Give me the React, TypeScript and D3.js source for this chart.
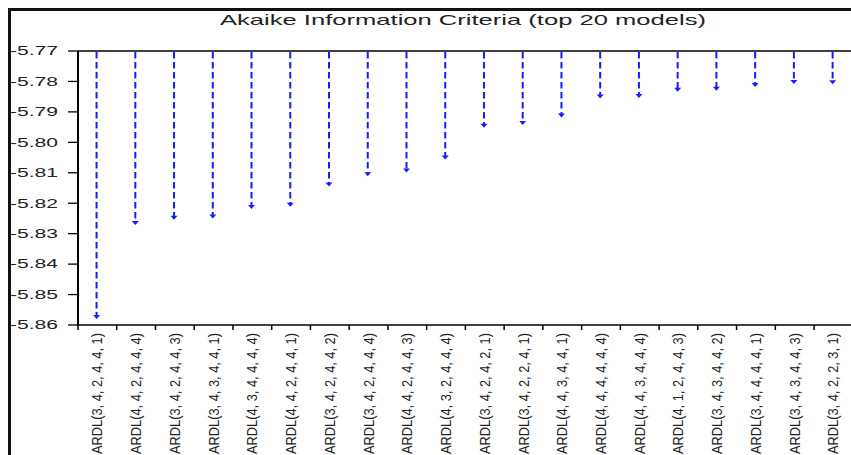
import { useMemo } from 'react';
import * as d3 from 'd3';

const models = [
  'ARDL(3, 4, 2, 4, 4, 1)',
  'ARDL(4, 4, 2, 4, 4, 4)',
  'ARDL(3, 4, 2, 4, 4, 3)',
  'ARDL(3, 4, 3, 4, 4, 1)',
  'ARDL(4, 3, 4, 4, 4, 4)',
  'ARDL(4, 4, 2, 4, 4, 1)',
  'ARDL(3, 4, 2, 4, 4, 2)',
  'ARDL(3, 4, 2, 4, 4, 4)',
  'ARDL(4, 4, 2, 4, 4, 3)',
  'ARDL(4, 3, 2, 4, 4, 4)',
  'ARDL(3, 4, 2, 4, 2, 1)',
  'ARDL(3, 4, 2, 2, 4, 1)',
  'ARDL(4, 4, 3, 4, 4, 1)',
  'ARDL(4, 4, 4, 4, 4, 4)',
  'ARDL(4, 4, 3, 4, 4, 4)',
  'ARDL(4, 1, 2, 4, 4, 3)',
  'ARDL(3, 4, 3, 4, 4, 2)',
  'ARDL(3, 4, 4, 4, 4, 1)',
  'ARDL(3, 4, 3, 4, 4, 3)',
  'ARDL(3, 4, 2, 2, 3, 1)',
];

const aic = [
  -5.8572, -5.8263, -5.8246, -5.8242, -5.8211, -5.8203, -5.8137, -5.8103, -5.8091, -5.8048,
  -5.7944, -5.7935, -5.7910, -5.7848, -5.7846, -5.7826, -5.7822, -5.7810, -5.7800, -5.7801,
];

const yTickValues = [-5.77, -5.78, -5.79, -5.80, -5.81, -5.82, -5.83, -5.84, -5.85, -5.86];

const title = 'Akaike Information Criteria (top 20 models)';

const W = 851;
const H = 455;
const left = 78;
const top = 51;
const bottom = 325;
const bandEnd = 852.8;
const font = '"Liberation Sans", Arial, sans-serif';
const blue = '#1a1aff';

const App = () => {
  const x = useMemo(() => d3.scaleBand<string>().domain(models).range([left, bandEnd]).padding(0), []);
  const y = useMemo(() => d3.scaleLinear().domain([-5.77, -5.86]).range([top, bottom]), []);

  const boundaries = useMemo(() => [...models.map(m => x(m) as number), bandEnd], [x]);

  return (
    <svg width={W} height={H} style={{ position: 'absolute', left: 0, top: 0, display: 'block', background: '#fff' }}>
      {/* outer frame */}
      <rect x={9.5} y={9.5} width={W + 20} height={H + 20} fill="none" stroke="#111" strokeWidth={3} />

      {/* title */}
      <text x={220} y={25} fontFamily={font} fontSize={15} fill="#222"
        textLength={486} lengthAdjust="spacingAndGlyphs">
        {title}
      </text>

      {/* plot frame */}
      <line x1={left} y1={top} x2={W} y2={top} stroke="#000" strokeWidth={1.3} />
      <line x1={left} y1={top} x2={left} y2={bottom} stroke="#000" strokeWidth={2} />
      <line x1={left} y1={bottom} x2={W} y2={bottom} stroke="#000" strokeWidth={1.5} />

      {/* y ticks */}
      {yTickValues.map(v => (
        <g key={v} transform={`translate(0, ${y(v)})`}>
          <line x1={68} x2={left} stroke="#000" strokeWidth={1.3} />
          <text x={58} dy="0.36em" textAnchor="end" fontFamily={font} fontSize={12} fill="#222"
            textLength={48} lengthAdjust="spacingAndGlyphs">
            {v.toFixed(2)}
          </text>
        </g>
      ))}

      {/* x ticks */}
      {boundaries.map((b, i) => (
        <line key={i} x1={b} x2={b} y1={bottom} y2={bottom + 5} stroke="#000" strokeWidth={1.5} />
      ))}

      {/* x labels */}
      {models.map(m => {
        const cx = (x(m) as number) + x.bandwidth() / 2;
        return (
          <text key={m} transform={`translate(${cx + 5}, ${bottom + 8}) rotate(-90)`}
            textAnchor="end" fontFamily={font} fontSize={14} fill="#222"
            textLength={121} lengthAdjust="spacingAndGlyphs">
            {m}
          </text>
        );
      })}

      {/* spikes */}
      {models.map((m, i) => {
        const cx = (x(m) as number) + x.bandwidth() / 2 - 0.8;
        const vy = y(aic[i]);
        return (
          <g key={m}>
            <line x1={cx} x2={cx} y1={top + 1} y2={vy} stroke={blue} strokeWidth={2} strokeDasharray="6.5,3.5" />
            <path d={`M${cx - 3.5},${vy - 1.5}L${cx + 3.5},${vy - 1.5}L${cx},${vy + 2.5}Z`} fill={blue} />
          </g>
        );
      })}
    </svg>
  );
};

export default App;
